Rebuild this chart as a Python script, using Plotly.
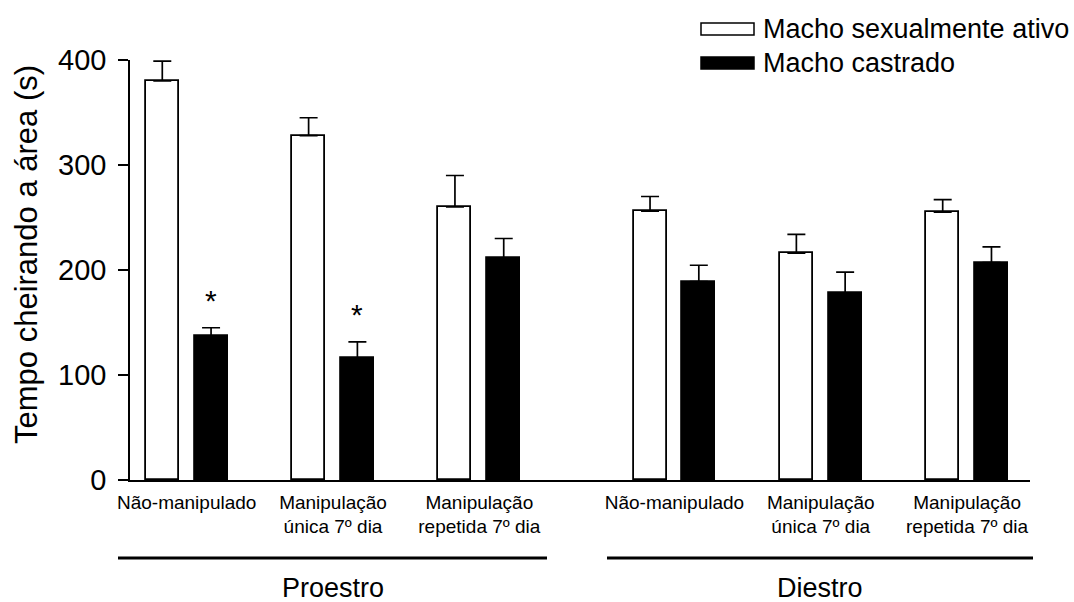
import plotly.graph_objects as go

# ---- data ----
groups = ["Proestro", "Diestro"]
conditions = ["Não-manipulado", "Manipulação<br>única 7º dia", "Manipulação<br>repetida 7º dia"]
series_names = ["Macho sexualmente ativo", "Macho castrado"]
ativo_mean = [380, 328, 260, 256, 216, 255]
ativo_sem = [19, 17, 30, 14, 18, 12]
castrado_mean = [137, 116, 211, 189, 178, 207]
castrado_sem = [8, 15.5, 19, 15.5, 20, 15]
signif = ["*", "*", "", "", "", ""]

# slot layout: Proestro W B Z | Diestro Z W B
ativo_x = [0, 3, 6, 10, 13, 16]
castrado_x = [1, 4, 7, 11, 14, 17]
label_x = [(a + b) / 2 for a, b in zip(ativo_x, castrado_x)]

FONT = "Liberation Sans, Arial, Helvetica, sans-serif"

# plot area in pixels
L, R, T, B = 130, 1030, 60, 480
W_, H_ = 1074, 602
def px(x):
    return (x - L) / (R - L)
def py(y):
    return (B - y) / (B - T)

fig = go.Figure()
fig.add_trace(go.Bar(
    x=ativo_x, y=ativo_mean, width=0.677, name=series_names[0],
    marker=dict(color="white", line=dict(color="black", width=1.8)),
    error_y=dict(type="data", array=ativo_sem, arrayminus=[0]*6, symmetric=False,
                 color="black", thickness=1.7, width=9),
    showlegend=False,
))
fig.add_trace(go.Bar(
    x=castrado_x, y=castrado_mean, width=0.677, name=series_names[1],
    marker=dict(color="black", line=dict(color="black", width=1.8)),
    error_y=dict(type="data", array=castrado_sem, arrayminus=[0]*6, symmetric=False,
                 color="black", thickness=1.7, width=9),
    showlegend=False,
))

annotations = []
for xi, m, s, sig in zip(castrado_x, castrado_mean, castrado_sem, signif):
    if sig:
        annotations.append(dict(x=xi, y=m + s, text=sig, showarrow=False,
                                yanchor="bottom", yshift=9,
                                font=dict(family=FONT, size=30, color="black")))

# y-axis title
annotations.append(dict(xref="paper", yref="paper", x=px(26), y=py(255),
                        xanchor="center", yanchor="middle",
                        text="Tempo cheirando a área (s)", textangle=-90, showarrow=False,
                        font=dict(family=FONT, size=31, color="black")))

# group labels and lines
group_spans = [(118, 547), (607, 1033)]
shapes = []
for g, (x0, x1) in zip(groups, group_spans):
    shapes.append(dict(type="line", xref="paper", yref="paper", x0=px(x0), x1=px(x1),
                       y0=py(558), y1=py(558), line=dict(color="black", width=3)))
    annotations.append(dict(xref="paper", yref="paper", x=px((x0 + x1) / 2), y=py(588),
                            text=g, showarrow=False, xanchor="center", yanchor="middle",
                            font=dict(family=FONT, size=27, color="black")))

# legend (drawn manually)
leg_fill = ["white", "black"]
leg_y = [29, 63]
for name, fill, yc in zip(series_names, leg_fill, leg_y):
    shapes.append(dict(type="rect", xref="paper", yref="paper", x0=px(701), x1=px(754),
                       y0=py(yc - 6), y1=py(yc + 6), fillcolor=fill,
                       line=dict(color="black", width=1.5)))
    annotations.append(dict(xref="paper", yref="paper", x=px(761), y=py(yc),
                            text=name, showarrow=False, xanchor="left", yanchor="middle",
                            font=dict(family=FONT, size=27, color="black")))

fig.update_layout(
    width=W_, height=H_,
    margin=dict(l=L, r=W_ - R, t=T, b=H_ - B, autoexpand=False),
    plot_bgcolor="white", paper_bgcolor="white",
    bargap=0, showlegend=False, hovermode=False,
    annotations=annotations, shapes=shapes,
    font=dict(family=FONT, color="black"),
)
fig.update_xaxes(range=[-0.662, 17.79], showline=True, linecolor="black", linewidth=1.6,
                 ticks="", tickvals=label_x, ticktext=conditions * 2,
                 tickfont=dict(family=FONT, size=19, color="black"),
                 showgrid=False, zeroline=False, ticklabelstandoff=4)
fig.update_yaxes(range=[0, 400], showline=True, linecolor="black", linewidth=1.6,
                 ticks="outside", ticklen=10, tickwidth=1.6, tickcolor="black",
                 tickvals=[0, 100, 200, 300, 400],
                 tickfont=dict(family=FONT, size=29, color="black"),
                 showgrid=False, zeroline=False, ticklabelstandoff=6)

fig.write_html("out.html", config={"displayModeBar": False},
               post_script="document.body.style.margin='0';document.body.style.overflow='hidden';")
